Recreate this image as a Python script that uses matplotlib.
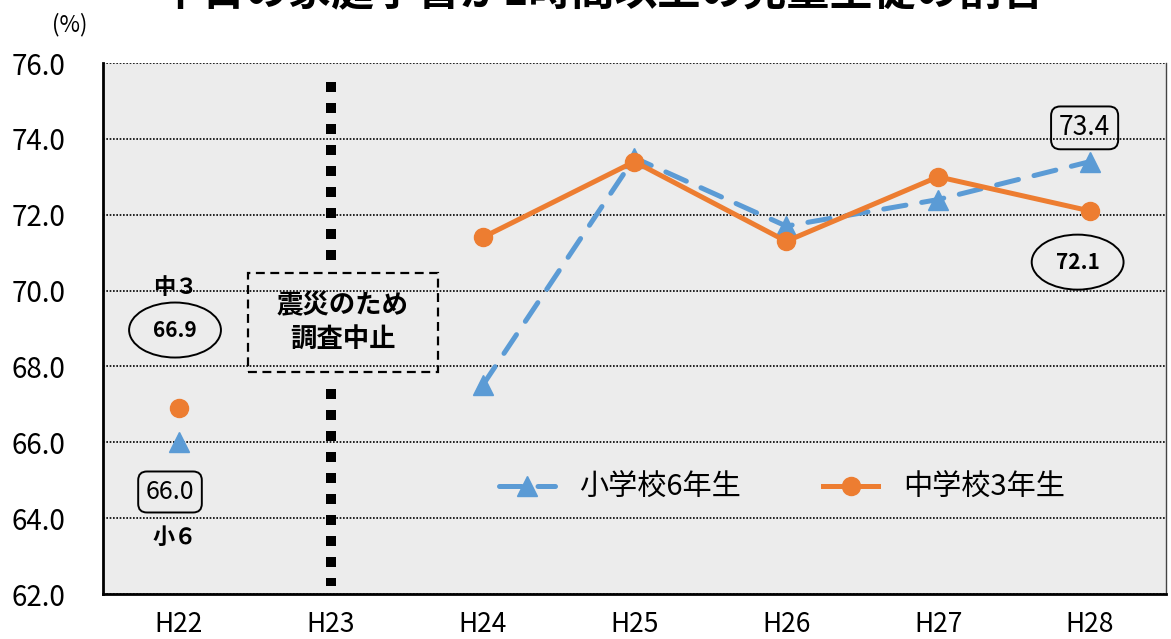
import numpy as np
import matplotlib.pyplot as plt
from matplotlib.patches import Ellipse, Rectangle

plt.rcParams['font.family'] = ['Noto Sans CJK JP', 'DejaVu Sans']

# data (H23 = no survey because of the earthquake)
years = ["H22", "H23", "H24", "H25", "H26", "H27", "H28"]
elem6 = [66.0, np.nan, 67.5, 73.5, 71.7, 72.4, 73.4]   # 小学校6年生
mid3 = [66.9, np.nan, 71.4, 73.4, 71.3, 73.0, 72.1]    # 中学校3年生
y_ticks = [62, 64, 66, 68, 70, 72, 74, 76]

blue = "#5b9bd5"
orange = "#ed7d31"

fig = plt.figure(figsize=(11.71, 6.39), dpi=100)
ax = fig.add_axes([0.088, 0.0704, 0.9076, 0.831])
ax.set_facecolor("#ececec")
x = np.arange(len(years))

#---------------------------------
# lines
ax.plot(x, elem6, color=blue, lw=3.6, dashes=(4.5, 3.2), dash_capstyle='round',
        marker='^', ms=14, label="小学校6年生", zorder=3)
ax.plot(x, mid3, color=orange, lw=3.6, marker='o', ms=13,
        label="中学校3年生", zorder=4)

# thick dotted line at H23, broken by the note box
ax.plot([1, 1], [75.5, 70.8], color='black', lw=7.2, linestyle=(0, (1, 1.1)),
        dash_capstyle='butt', zorder=2)
ax.plot([1, 1], [67.4, 62.2], color='black', lw=7.2, linestyle=(0, (1, 1.1)),
        dash_capstyle='butt', zorder=2)
ax.add_patch(Rectangle((0.454, 67.86), 1.25, 2.61, fill=False, ec='black',
                       lw=1.6, ls=(0, (4, 2.5)), zorder=2))
ax.text(1.079, 69.15, "震災のため\n調査中止", ha='center', va='center',
        fontsize=19, fontweight='bold', linespacing=1.3, zorder=5)

#---------------------------------
# value callouts
ax.text(-0.026, 70.09, "中３", ha='center', va='center', fontsize=16, fontweight='bold')
ax.add_patch(Ellipse((-0.026, 68.96), 0.605, 1.45, fill=False, ec='black', lw=1.4))
ax.text(-0.026, 68.96, f"{mid3[0]:.1f}", ha='center', va='center',
        fontsize=15, fontweight='bold')
ax.text(-0.059, 64.69, f"{elem6[0]:.1f}", ha='center', va='center', fontsize=18,
        bbox=dict(boxstyle='round,pad=0.3,rounding_size=0.35', fc='none', ec='black', lw=1.4))
ax.text(-0.026, 63.5, "小６", ha='center', va='center', fontsize=16, fontweight='bold')

ax.text(5.965, 74.29, f"{elem6[-1]:.1f}", ha='center', va='center', fontsize=19,
        bbox=dict(boxstyle='round,pad=0.3,rounding_size=0.35', fc='none', ec='black', lw=1.4))
ax.add_patch(Ellipse((5.919, 70.75), 0.605, 1.45, fill=False, ec='black', lw=1.4))
ax.text(5.919, 70.75, f"{mid3[-1]:.1f}", ha='center', va='center',
        fontsize=15, fontweight='bold')

#---------------------------------
# FORMATTING
ax.set_xlim(-0.5, 6.5)
ax.set_ylim(62, 76)
ax.set_xticks(x)
ax.set_xticklabels(years)
ax.set_yticks(y_ticks)
ax.set_yticklabels([f"{v:.1f}" for v in y_ticks])
ax.tick_params(axis='y', length=0, labelsize=20, pad=27)
ax.tick_params(axis='x', length=0, labelsize=19, pad=12)
ax.yaxis.grid(True, color='black', linestyle=(0, (1, 1)), lw=1.2)
ax.set_axisbelow(True)

ax.spines['top'].set_visible(False)
ax.spines['left'].set_linewidth(2)
ax.spines['bottom'].set_linewidth(2)
ax.spines['right'].set_color('#444444')
ax.spines['right'].set_linewidth(1)

ax.legend(loc='center', bbox_to_anchor=(0.639, 0.2), ncol=2, frameon=False,
          fontsize=21, handlelength=1.9, handletextpad=0.85, columnspacing=2.8)

fig.text(70 / 1171, 1 - 25 / 639, "(%)", ha='center', va='center', fontsize=16)
fig.text(0.514, 1 - 14 / 639, "平日の家庭学習が1時間以上の児童生徒の割合",
         ha='center', va='bottom', fontsize=31, fontweight='bold')

fig.savefig("out.png", dpi=100)
